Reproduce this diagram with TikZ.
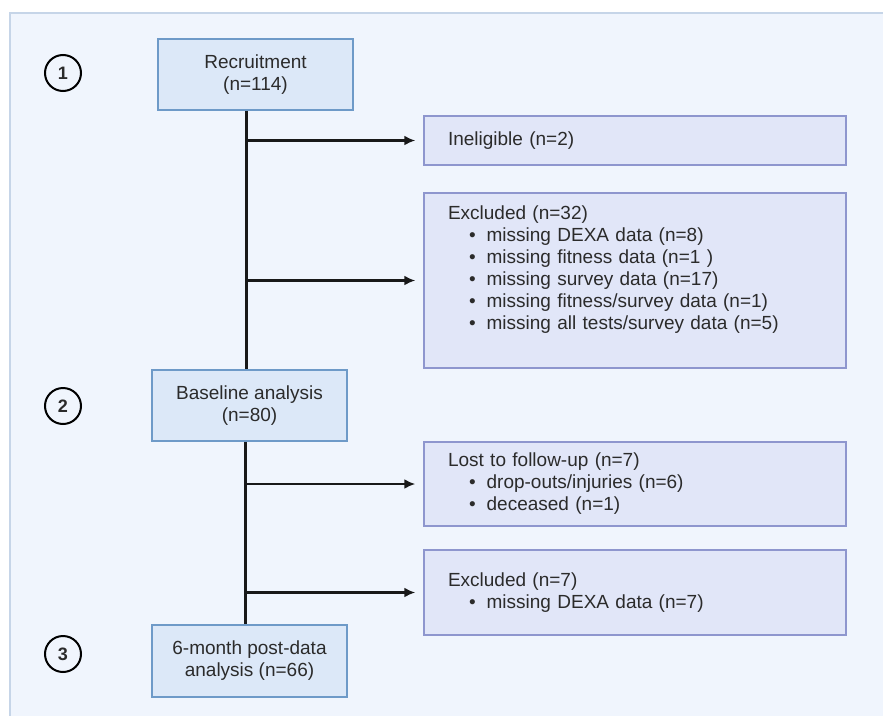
\documentclass[tikz,border=0pt]{standalone}
\usepackage{fontspec}
\setmainfont{Liberation Sans}
\usepackage{xcolor}
\usetikzlibrary{arrows.meta}

\definecolor{panelfill}{HTML}{F0F5FD}
\definecolor{paneldraw}{HTML}{C6D5E8}
\definecolor{stagefill}{HTML}{DCE8F8}
\definecolor{stagedraw}{HTML}{6E9AC8}
\definecolor{lossfill}{HTML}{E1E6F8}
\definecolor{lossdraw}{HTML}{8E96CE}
\definecolor{txt}{HTML}{2B2B2B}

\newcommand{\bul}{\hspace*{21pt}\textbullet\hspace{11pt}}

\begin{document}
\begin{tikzpicture}[x=1pt, y=-1pt, >={Latex[length=11pt,width=10pt]},
  every node/.style={font=\fontsize{19}{22}\selectfont, text=txt},
  stage/.style={draw=stagedraw, fill=stagefill, line width=1.5pt, align=center,
    minimum width=195pt, inner sep=0pt},
  loss/.style={draw=lossdraw, fill=lossfill, line width=1.5pt, align=left,
    text width=374pt, inner xsep=24pt, inner ysep=0pt},
  marker/.style={circle, draw=black, line width=2pt, minimum size=36pt,
    inner sep=0pt, font=\fontsize{18}{20}\selectfont\bfseries},
  conn/.style={line width=2.1pt, black!90}]
  % --- 1. Frame ---
  \useasboundingbox (0,0) rectangle (883,715);
  \draw[paneldraw, fill=panelfill, line width=1.6pt] (10,13) rectangle (895,725);

  % --- 2. Stages (left column) ---
  \node[stage, minimum height=71pt] (rec) at (255.5,74.5) {Recruitment\\(n=114)};
  \node[stage, minimum height=71pt] (base) at (249.5,405.5) {Baseline analysis\\(n=80)};
  \node[stage, minimum height=72pt] (post) at (249.5,661) {6-month post-data\\analysis (n=66)};

  % --- 3. Step markers ---
  \node[marker] (m1) at (63,73) {1};
  \node[marker] (m2) at (63,406) {2};
  \node[marker] (m3) at (63,654) {3};

  % --- 4. Losses (right column) ---
  \node[loss, minimum height=49pt] (inel) at (635,140.5) {Ineligible (n=2)};
  \node[loss, minimum height=175pt] (excl) at (635,280.5) {Excluded (n=32)\\
    \bul missing DEXA data (n=8)\\
    \bul missing fitness data (n=1 )\\
    \bul missing survey data (n=17)\\
    \bul missing fitness/survey data (n=1)\\
    \bul missing all tests/survey data (n=5)\\[4pt]\mbox{}};
  \node[loss, minimum height=84pt] (lost) at (635,484) {Lost to follow-up (n=7)\\
    \bul drop-outs/injuries (n=6)\\
    \bul deceased (n=1)};
  \node[loss, minimum height=85pt] (excl2) at (635,592.5) {Excluded (n=7)\\
    \bul missing DEXA data (n=7)};

  % --- 5. Connectors ---
  \coordinate (sp1) at ([xshift=-9pt]rec.south);
  \coordinate (sp2) at ([xshift=-4pt]base.south);
  \draw[conn] (sp1) -- (sp1 |- base.north);
  \draw[conn] (sp2) -- (sp2 |- post.north);
  \draw[conn, ->, shorten >=8pt] (sp1 |- inel.west) -- (inel.west);
  \draw[conn, ->, shorten >=8pt] (sp1 |- excl.west) -- (excl.west);
  \draw[conn, ->, shorten >=8pt] (sp2 |- lost.west) -- (lost.west);
  \draw[conn, ->, shorten >=8pt] (sp2 |- excl2.west) -- (excl2.west);

\end{tikzpicture}
\end{document}
